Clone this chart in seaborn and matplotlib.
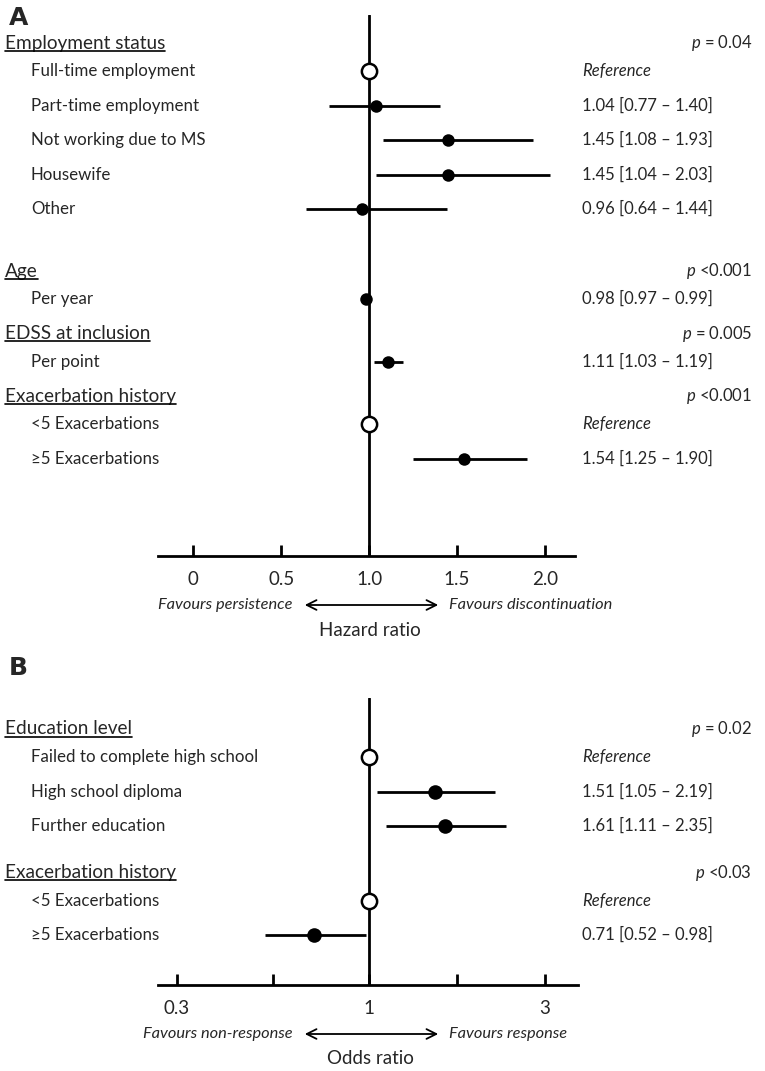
import numpy as np
import pandas as pd
import matplotlib
matplotlib.use("Agg")
import matplotlib.pyplot as plt
import seaborn as sns
from matplotlib.transforms import blended_transform_factory
from matplotlib.lines import Line2D

# ---------------- data ----------------
# Panel A (hazard ratios)
a_groups = ["Employment status", "Age", "EDSS at inclusion", "Exacerbation history"]
a_pvals = ["= 0.04", "<0.001", "= 0.005", "<0.001"]
a_items = [
    ["Full-time employment", "Part-time employment", "Not working due to MS", "Housewife", "Other"],
    ["Per year"],
    ["Per point"],
    ["<5 Exacerbations", "\u22655 Exacerbations"],
]
a_est = [[1.00, 1.04, 1.45, 1.45, 0.96], [0.98], [1.11], [1.00, 1.54]]
a_lo = [[np.nan, 0.77, 1.08, 1.04, 0.64], [0.97], [1.03], [np.nan, 1.25]]
a_hi = [[np.nan, 1.40, 1.93, 2.03, 1.44], [0.99], [1.19], [np.nan, 1.90]]
a_ref = [[True, False, False, False, False], [False], [False], [True, False]]
a_ticks = [0, 0.5, 1.0, 1.5, 2.0]
a_ticklabels = ["0", "0.5", "1.0", "1.5", "2.0"]

# Panel B (odds ratios)
b_groups = ["Education level", "Exacerbation history"]
b_pvals = ["= 0.02", "<0.03"]
b_items = [
    ["Failed to complete high school", "High school diploma", "Further education"],
    ["<5 Exacerbations", "\u22655 Exacerbations"],
]
b_est = [[1.00, 1.51, 1.61], [1.00, 0.71]]
b_lo = [[np.nan, 1.05, 1.11], [np.nan, 0.52]]
b_hi = [[np.nan, 2.19, 2.35], [np.nan, 0.98]]
b_ref = [[True, False, False], [True, False]]
b_ticks = [0.3, 1, 3]
b_ticklabels = ["0.3", "1", "3"]
b_minor = [0.3 ** 0.5, 3 ** 0.5]

# ---------------- style ----------------
sns.set_theme(style="white")
FONT = "Lato"
plt.rcParams["font.family"] = [FONT, "DejaVu Sans"]
plt.rcParams["mathtext.fontset"] = "custom"
plt.rcParams["mathtext.rm"] = FONT
plt.rcParams["mathtext.it"] = FONT + ":italic"

W, H = 765, 1071
fig = plt.figure(figsize=(W / 100, H / 100), dpi=100)


def fx(px):
    return px / W


def fy(py):
    return 1 - py / H


LW = 2.0
HDR_FS = 13.7
ITEM_FS = 12.0


def fmt_val(e, l, h, ref):
    if ref:
        return None
    return f"{e:.2f} [{l:.2f} \u2013 {h:.2f}]"


def layout(groups_items, start, step, hdr_gap, group_gaps):
    """compute pixel y for headers and items"""
    hdr_y, item_y = [], []
    y = start
    for gi, items in enumerate(groups_items):
        if gi > 0:
            y = item_y[-1][-1] + group_gaps[gi - 1] * step
        hdr_y.append(y)
        ys = [y + hdr_gap + k * step for k in range(len(items))]
        item_y.append(ys)
    return hdr_y, item_y


def panel(ax_box, xlim, log, groups, pvals, items, est, lo, hi, ref,
          ticks, ticklabels, minor, start, gaps, msize, xlabel,
          left_txt, right_txt, letter, letter_y):
    x0, x1, ytop, ybot = ax_box
    ax = fig.add_axes([fx(x0), fy(ybot), fx(x1) - fx(x0), (ybot - ytop) / H])
    hdr_y, item_y = layout(items, start, 34.5, 28, gaps)
    rows = []
    for g, its in enumerate(items):
        for k, name in enumerate(its):
            rows.append(dict(item=name, y=item_y[g][k], est=est[g][k],
                             lo=lo[g][k], hi=hi[g][k], ref=ref[g][k]))
    df = pd.DataFrame(rows)
    if log:
        ax.set_xscale("log")
    ax.set_xlim(*xlim)
    ax.set_ylim(ybot, ytop)
    ax.axvline(1.0, color="black", lw=LW, zorder=1)
    ci = df[~df["ref"]]
    ax.hlines(ci["y"], ci["lo"], ci["hi"], color="black", lw=LW, zorder=2)
    sns.scatterplot(data=ci, x="est", y="y", ax=ax, color="black",
                    s=msize ** 2, edgecolor="black", linewidth=0, zorder=3, legend=False)
    rf = df[df["ref"]]
    sns.scatterplot(data=rf, x="est", y="y", ax=ax, color="white",
                    s=11 ** 2, edgecolor="black", linewidth=1.8, zorder=4, legend=False)
    for s in ["top", "right", "left"]:
        ax.spines[s].set_visible(False)
    ax.spines["bottom"].set_linewidth(LW)
    ax.spines["bottom"].set_color("black")
    ax.set_yticks([])
    ax.set_xticks(ticks)
    ax.set_xticklabels(ticklabels)
    ax.minorticks_off()
    if minor:
        ax.set_xticks(minor, minor=True)
        ax.tick_params(axis="x", which="minor", direction="in", length=8, width=LW,
                       color="black", bottom=True)
    ax.tick_params(axis="x", which="major", direction="in", length=8, width=LW,
                   color="black", labelsize=13.5, pad=11, bottom=True)
    ax.set_xlabel("")
    ax.set_ylabel("")
    ax.patch.set_alpha(0)

    tr = blended_transform_factory(fig.transFigure, ax.transData)
    hdr_texts = []
    for g, name in enumerate(groups):
        t = ax.text(fx(5), hdr_y[g], name, transform=tr, fontsize=HDR_FS,
                    va="center", ha="left", clip_on=False)
        hdr_texts.append(t)
        ax.text(fx(752), hdr_y[g], r"$\it{p}$ " + pvals[g], transform=tr,
                fontsize=ITEM_FS, va="center", ha="right", clip_on=False)
        for k, it in enumerate(items[g]):
            ax.text(fx(31), item_y[g][k], it, transform=tr, fontsize=ITEM_FS + 0.2,
                    va="center", ha="left", clip_on=False)
            v = fmt_val(est[g][k], lo[g][k], hi[g][k], ref[g][k])
            if v is None:
                ax.text(fx(582), item_y[g][k], "Reference", transform=tr,
                        fontsize=ITEM_FS, va="center", ha="left", style="italic",
                        clip_on=False)
            else:
                ax.text(fx(582), item_y[g][k], v, transform=tr, fontsize=ITEM_FS,
                        va="center", ha="left", clip_on=False)
    fy_fav = ybot + 49
    fig.text(fx(293), fy(fy_fav), left_txt, ha="right", va="center",
             fontsize=11.8, style="italic")
    fig.text(fx(449), fy(fy_fav), right_txt, ha="left", va="center",
             fontsize=11.8, style="italic")
    fig.add_artist(matplotlib.patches.FancyArrowPatch(
        (fx(302), fy(fy_fav)), (fx(441), fy(fy_fav)), transform=fig.transFigure,
        arrowstyle="<->,head_length=7,head_width=3.5", lw=1.3, color="black",
        mutation_scale=1))
    fig.text(fx(370), fy(ybot + 74), xlabel, ha="center", va="center", fontsize=13.5)
    fig.text(fx(9), fy(letter_y), letter, ha="left", va="center", fontsize=18,
             fontweight="bold", family="DejaVu Sans")
    return hdr_texts


hA = panel((158, 575, 15, 556), (-0.2, 2.17), False, a_groups, a_pvals, a_items,
           a_est, a_lo, a_hi, a_ref, a_ticks, a_ticklabels, None, 43,
           [1.8, 1.0, 1.0], 9.0, "Hazard ratio",
           "Favours persistence", "Favours discontinuation", "A", 18)
hB = panel((158, 578, 698, 985), (0.267, 3.69), True, b_groups, b_pvals, b_items,
           b_est, b_lo, b_hi, b_ref, b_ticks, b_ticklabels, b_minor, 729,
           [1.35], 10.5, "Odds ratio",
           "Favours non-response", "Favours response", "B", 668)

# underline headers
fig.canvas.draw()
r = fig.canvas.get_renderer()
for t in hA + hB:
    bb = t.get_window_extent(r)
    yline = bb.y0 + 1.0
    fig.add_artist(Line2D([bb.x0 / W, bb.x1 / W], [yline / H, yline / H],
                          transform=fig.transFigure, color="black", lw=1.2))

fig.savefig("out.png", dpi=100)
